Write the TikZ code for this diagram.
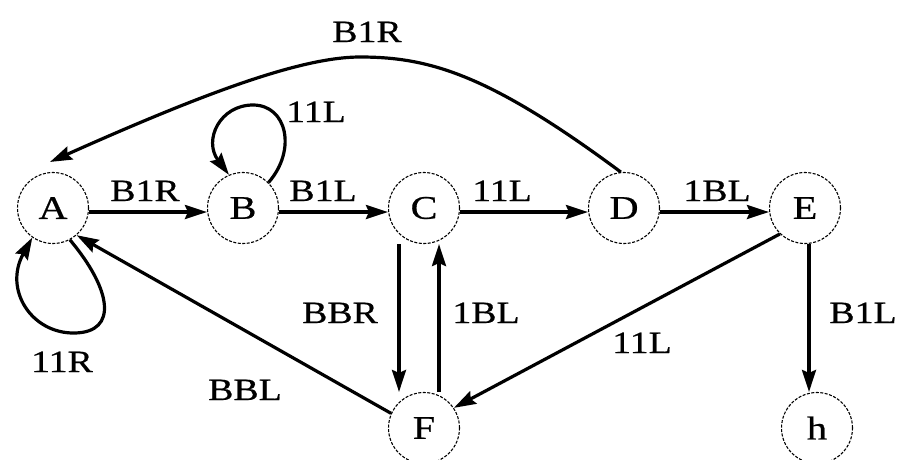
\documentclass[tikz,border=0pt]{standalone}
\usepackage{fontspec}
\setmainfont{Liberation Serif}[FakeStretch=1.22,FakeBold=0.6]
\usetikzlibrary{arrows.meta,calc}
\begin{document}
\begin{tikzpicture}[x=1pt,y=-1pt,
  state/.style={circle,draw=black,line width=1.1pt,dash pattern=on 3pt off 1.5pt,minimum size=71pt,inner sep=0pt,font=\fontsize{33}{33}\selectfont},
  edge/.style={line width=3.2pt,-{Stealth[length=22pt,width=14pt,inset=3pt]}},
  lbl/.style={font=\fontsize{31}{31}\selectfont,inner sep=0pt,anchor=base}]
\useasboundingbox (0,0) rectangle (904,459);
\node[state] (A) at (53,208) {A};
\node[state] (B) at (243,208) {B};
\node[state] (C) at (424,208) {C};
\node[state] (D) at (624,208) {D};
\node[state] (E) at (805,208) {E};
\node[state] (F) at (424,428) {F};
\node[state] (h) at (817,428) {h};
\draw[edge] ([yshift=-4pt]A.east) -- ([yshift=-4pt]B.west);
\draw[edge] ([yshift=-4pt]B.east) -- ([yshift=-4pt]C.west);
\draw[edge] ([yshift=-4pt]C.east) -- ([yshift=-4pt]D.west);
\draw[edge] ([yshift=-4pt]D.east) -- ([yshift=-4pt]E.west);
\draw[edge] ([xshift=-25pt]C.south) -- ([xshift=-25pt]F.north);
\draw[edge] ([xshift=15pt]F.north) -- ([xshift=15pt]C.south);
\draw[edge] ([xshift=4pt]E.south) -- ([xshift=-8pt]h.north);
\draw[edge] (E.-134) -- (F.34);
\draw[edge] (F.156) -- (A.-49);
\draw[edge] (D.95) .. controls (490,75) and (430,57) .. (360,57) .. controls (300,57) and (200,95) .. ([shift={(-3pt,10pt)}]A.north);
\draw[edge] (A.-62) .. controls (112,290) and (118,332) .. (75,333) .. controls (32,334) and (3,290) .. (A.-125);
\draw[edge] (B.45) .. controls (297,150) and (287,105) .. (253,105) .. controls (220,105) and (203,140) .. (B.113);
\node[lbl] (l1) at (145,201) {B1R};
\node[lbl] (l2) at (323,201) {B1L};
\node[lbl] (l3) at (502,201) {11L};
\node[lbl] (l4) at (717,201) {1BL};
\node[lbl] (l5) at (863,323) {B1L};
\node[lbl] (l6) at (340,323) {BBR};
\node[lbl] (l7) at (486,323) {1BL};
\node[lbl] (l8) at (642,353) {11L};
\node[lbl] (l9) at (245,400) {BBL};
\node[lbl] (l10) at (62,372) {11R};
\node[lbl] (l11) at (316,122) {11L};
\node[lbl] (l12) at (367,42) {B1R};
\end{tikzpicture}
\end{document}
